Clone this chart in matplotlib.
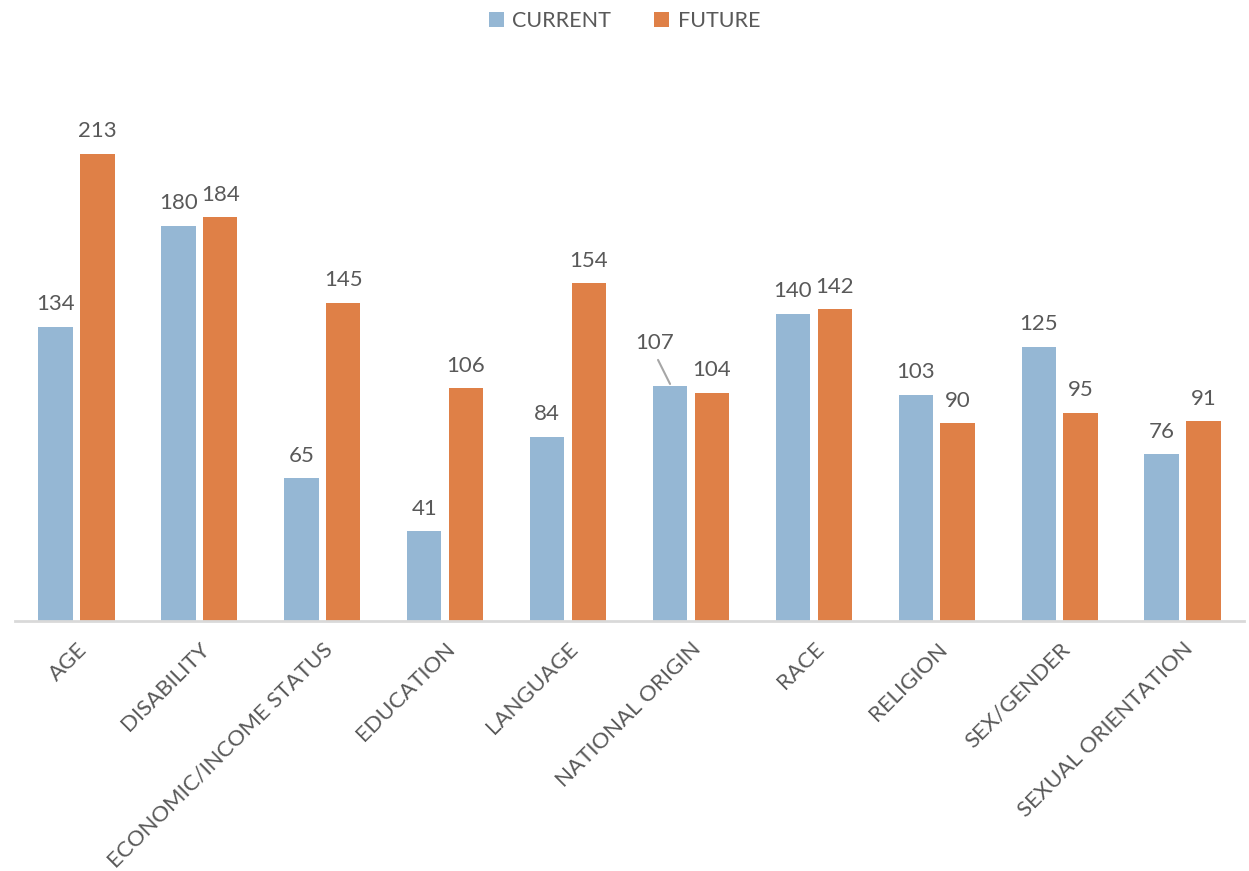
import numpy as np
import matplotlib.pyplot as plt

plt.rcParams['font.family'] = ['Lato', 'DejaVu Sans']

# categories and counts
categories = ['AGE', 'DISABILITY', 'ECONOMIC/INCOME STATUS', 'EDUCATION',
              'LANGUAGE', 'NATIONAL ORIGIN', 'RACE', 'RELIGION',
              'SEX/GENDER', 'SEXUAL ORIENTATION']
current = [134, 180, 65, 41, 84, 107, 140, 103, 125, 76]
future = [213, 184, 145, 106, 154, 104, 142, 90, 95, 91]

c_current = '#95B7D4'
c_future = '#DF8047'
grey = '#595959'

fig = plt.figure(figsize=(12.49, 8.71), dpi=100)
ax = fig.add_axes([0.012, 0.287, 0.984, 0.63])

x = np.arange(len(categories))
w = 0.28
off = 0.17
b1 = ax.bar(x - off, current, w, color=c_current, label='CURRENT')
b2 = ax.bar(x + off, future, w, color=c_future, label='FUTURE')

# value labels above each bar
for bars, vals in ((b1, current), (b2, future)):
    for rect, v in zip(bars, vals):
        cx = rect.get_x() + rect.get_width() / 2
        if bars is b1 and v == 107:
            # this one is pushed aside and tied back with a leader line
            ax.annotate(str(v), xy=(cx, v + 1), xytext=(-11, 22),
                        textcoords='offset points', ha='center', va='bottom',
                        fontsize=16, color=grey,
                        arrowprops=dict(arrowstyle='-', color='#A6A6A6',
                                        lw=1.5, shrinkA=3, shrinkB=0,
                                        relpos=(0.5, 0)))
            continue
        ax.annotate(str(v), xy=(cx, v), xytext=(0, 9),
                    textcoords='offset points', ha='center', va='bottom',
                    fontsize=16, color=grey)

ax.set_xlim(-0.5, len(categories) - 0.5)
ax.set_ylim(0, 250)
ax.set_xticks(x)
ax.set_xticklabels(categories, rotation=45, ha='right',
                   rotation_mode='anchor', fontsize=16, color=grey)
ax.tick_params(axis='x', length=0, pad=13)
ax.set_yticks([])

for s in ('top', 'right', 'left'):
    ax.spines[s].set_visible(False)
ax.spines['bottom'].set_color('#D9D9D9')
ax.spines['bottom'].set_linewidth(2)

leg = fig.legend(loc='upper center', bbox_to_anchor=(0.5, 1.01), ncol=2,
                 frameon=False, fontsize=15.5, handlelength=0.7,
                 handleheight=0.7, columnspacing=2.0, handletextpad=0.4)
for t in leg.get_texts():
    t.set_color(grey)

fig.savefig('out.png', dpi=100)
